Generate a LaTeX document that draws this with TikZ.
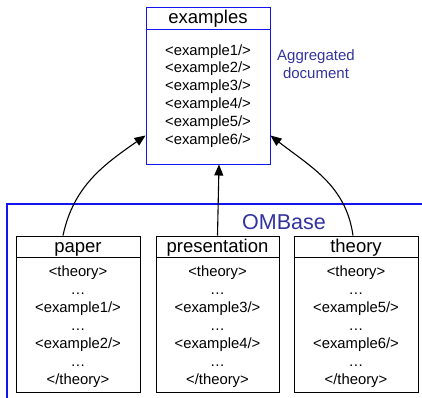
\documentclass[tikz,border=0pt]{standalone}
\usepackage{fontspec}
\setmainfont{Liberation Sans}
\usetikzlibrary{arrows.meta,calc}
\definecolor{frameblue}{RGB}{20,20,240}
\definecolor{textblue}{RGB}{51,51,160}
\tikzset{
  box/.style={draw=black, line width=1pt, minimum width=124pt, minimum height=156pt, inner sep=0pt},
  bluebox/.style={draw=frameblue, line width=1pt, minimum width=124pt, minimum height=157pt, inner sep=0pt},
  head/.style={font=\fontsize{18.5}{20}\selectfont, anchor=base, inner sep=0pt},
  line/.style={font=\fontsize{14.8}{17}\selectfont, anchor=base, inner sep=0pt},
  bluetext/.style={text=textblue, inner sep=0pt},
  conn/.style={line width=1.1pt, -{Triangle[length=11pt,width=9pt]}},
}
\begin{document}
\begin{tikzpicture}[x=1pt,y=-1pt]
\useasboundingbox (0,0) rectangle (422,397);
% OMBase frame
\draw[frameblue, line width=1.2pt] (7,400) -- (7,204) -- (425,204);
\node[bluetext, font=\fontsize{21.5}{24}\selectfont, anchor=base] (omb) at (284,229.5) {OMBase};
% aggregated document
\node[bluetext, font=\fontsize{15}{18.5}\selectfont, align=center, anchor=north] (agg) at (316,49) {Aggregated\\document};
% examples box
\node[bluebox, fill=white] (ex) at (208,85.5) {};
\draw[frameblue, line width=1pt] (ex.west |- 0,29) -- (ex.east |- 0,29);
\node[head] (exh) at (208,23.3) {examples};
\foreach \t [count=\i] in {<example1/>,<example2/>,<example3/>,<example4/>,<example5/>,<example6/>}
  \node[line] (exl\i) at (208,{55+17.8*(\i-1)}) {\t};
% bottom boxes
\node[box] (paper) at (78,314) {};
\node[box, minimum width=123pt] (pres) at (217.5,314) {};
\node[box] (theory) at (356,314) {};
\foreach \b in {paper,pres,theory}
  \draw[line width=1pt] (\b.west |- 0,257) -- (\b.east |- 0,257);
\node[head] (paperh) at (78,252.7) {paper};
\node[head] (presh) at (217.5,252.7) {presentation};
\node[head] (theoryh) at (356,252.7) {theory};
\foreach \t [count=\i] in {<theory>,\dots,<example1/>,\dots,<example2/>,\dots,</theory>}
  \node[line] (pl\i) at (78,{276+18*(\i-1)}) {\t};
\foreach \t [count=\i] in {<theory>,\dots,<example3/>,\dots,<example4/>,\dots,</theory>}
  \node[line] (rl\i) at (217.5,{276+18*(\i-1)}) {\t};
\foreach \t [count=\i] in {<theory>,\dots,<example5/>,\dots,<example6/>,\dots,</theory>}
  \node[line] (tl\i) at (356,{276+18*(\i-1)}) {\t};
% connectors
\draw[conn] ([xshift=-15pt]paper.north) to[out=78,in=-145] ([yshift=29pt]ex.south west);
\draw[conn] (pres.north) -- ([xshift=11pt]ex.south);
\draw[conn] ([xshift=-3pt]theory.north) to[out=98,in=-38] ([yshift=29pt]ex.south east);
\end{tikzpicture}
\end{document}
